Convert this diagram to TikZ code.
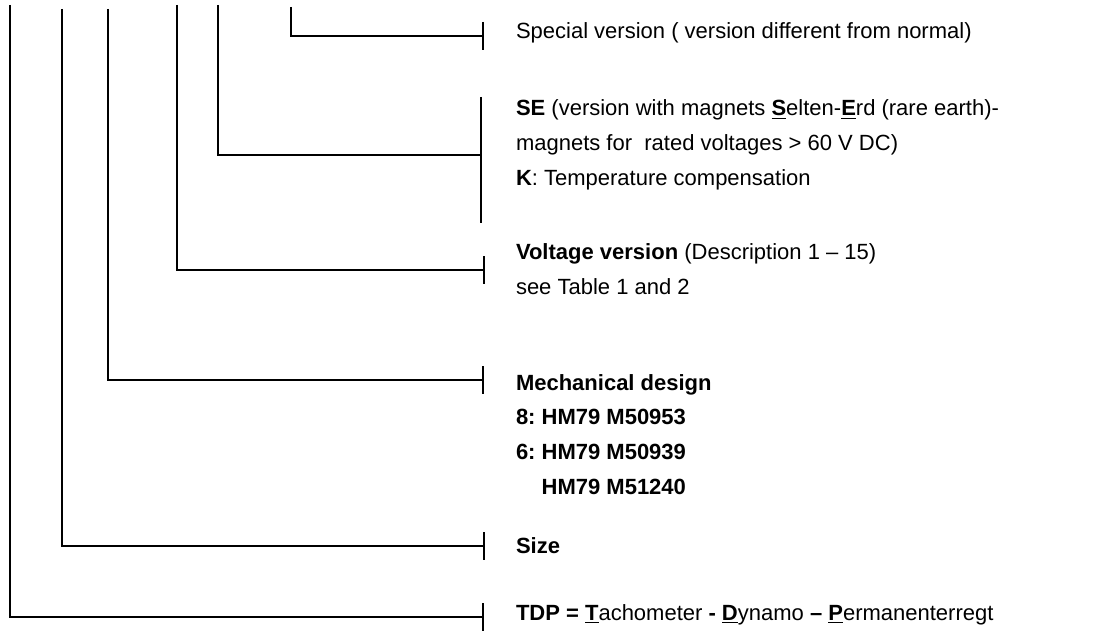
\documentclass[tikz,border=0pt]{standalone}
\usepackage{fontspec}
\setmainfont{Liberation Sans}
\usetikzlibrary{arrows.meta}
\newcommand\ulb[1]{\underline{\textbf{#1}}}
\frenchspacing

\begin{document}
\begin{tikzpicture}[x=0.5pt,y=-0.5pt,line width=1pt,
    lead/.style={-{Bar[width=14pt,line width=1pt]}},
    desc/.style={anchor=base west,align=left,inner sep=0pt,
      font=\fontsize{11}{17.3}\selectfont}]
    \useasboundingbox (0,0) rectangle (1112,636);

    % tops of the leaders
    \coordinate (T1) at (10,5);
    \coordinate (T2) at (62,9);
    \coordinate (T3) at (108,9);
    \coordinate (T4) at (177,5);
    \coordinate (T5) at (218,5);
    \coordinate (T6) at (291,7);

    % ends of the leaders
    \coordinate (E1) at (484,617);
    \coordinate (E2) at (485,546);
    \coordinate (E3) at (484,380);
    \coordinate (E4) at (485,270);
    \coordinate (E5) at (481,155);
    \coordinate (E6) at (484,36);
    \coordinate (B1) at (481,97);
    \coordinate (B2) at (481,223);

    % descriptions (base = last line)
    \node[desc] (special) at (515,39) {Special version ( version different from normal)};
    \node[desc] (se) at (515,185) {\textbf{SE} (version with magnets \ulb{S}elten-\ulb{E}rd (rare earth)-\\
      magnets for\ \ rated voltages > 60 V DC)\\
      \textbf{K}: Temperature compensation};
    \node[desc] (volt) at (515,294) {\textbf{Voltage version} (Description 1 – 15)\\
      see Table 1 and 2};
    \node[desc,font=\fontsize{11}{17.3}\selectfont\bfseries] (mech) at (515,494) {Mechanical design\\
      8: HM79 M50953\\
      6: HM79 M50939\\
      \phantom{6: }HM79 M51240};
    \node[desc,font=\fontsize{11}{17.3}\selectfont\bfseries] (size) at (515,553) {Size};
    \node[desc] (tdp) at (515,620) {\textbf{TDP = }\ulb{T}achometer \textbf{-} \ulb{D}ynamo \textbf{–} \ulb{P}ermanenterregt};

    % leaders
    \draw[lead] (T1) |- (E1);
    \draw[lead] (T2) |- (E2);
    \draw[lead] (T3) |- (E3);
    \draw[lead] (T4) |- (E4);
    \draw (T5) |- (E5);
    \draw (B1) -- (B2);
    \draw[lead] (T6) |- (E6);
\end{tikzpicture}
\end{document}
